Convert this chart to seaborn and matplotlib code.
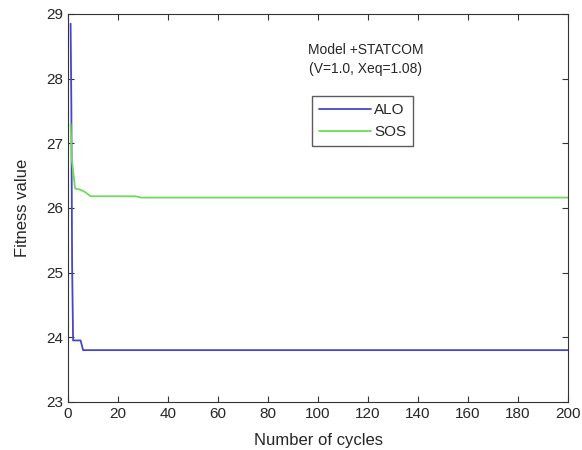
import pandas as pd
import seaborn as sns
import matplotlib
matplotlib.use('Agg')
import matplotlib.pyplot as plt

# Convergence curves (cycle, fitness)
alo_cycles = [1, 1.3, 1.6, 2, 5, 6, 200]
alo_fitness = [28.85, 27.6, 25.15, 23.95, 23.95, 23.8, 23.8]
sos_cycles = [1, 1.5, 2.8, 5, 7, 9, 27, 29, 200]
sos_fitness = [27.3, 26.75, 26.3, 26.28, 26.24, 26.18, 26.18, 26.16, 26.16]
x_ticks = [0, 20, 40, 60, 80, 100, 120, 140, 160, 180, 200]
y_ticks = [23, 24, 25, 26, 27, 28, 29]

sns.set_style("ticks")
plt.rcParams['font.family'] = ['Liberation Sans', 'DejaVu Sans']
plt.rcParams['xtick.direction'] = 'in'
plt.rcParams['ytick.direction'] = 'in'

df = pd.concat([
    pd.DataFrame({'cycle': alo_cycles, 'fitness': alo_fitness, 'algo': 'ALO'}),
    pd.DataFrame({'cycle': sos_cycles, 'fitness': sos_fitness, 'algo': 'SOS'}),
])

fig = plt.figure(figsize=(5.82, 4.5), dpi=100)
ax = fig.add_axes([0.117, 0.107, 0.859, 0.862])
sns.lineplot(data=df, x='cycle', y='fitness', hue='algo', sort=False,
             palette={'ALO': '#4646cc', 'SOS': '#6ddc5a'}, linewidth=1.3, ax=ax)

ax.set_xlim(0, 200)
ax.set_ylim(23, 29)
ax.set_xticks(x_ticks)
ax.set_yticks(y_ticks)
ax.tick_params(labelsize=11, length=4, color='#333333', top=True, right=True)
for s in ax.spines.values():
    s.set_color('#333333')
ax.set_xlabel('Number of cycles', fontsize=12, labelpad=9)
ax.set_ylabel('Fitness value', fontsize=12, labelpad=12)

ax.text(119, 28.3, 'Model +STATCOM\n(V=1.0, Xeq=1.08)', ha='center', va='center',
        fontsize=10, linespacing=1.45)
leg = ax.legend(loc='upper left', bbox_to_anchor=(0.488, 0.788), fontsize=11,
                frameon=True, fancybox=False, edgecolor='#333333', borderaxespad=0,
                handlelength=3.4, borderpad=0.45, labelspacing=0.55, handletextpad=0.2)
leg.get_frame().set_linewidth(1.0)

fig.savefig('out.png', dpi=100)
